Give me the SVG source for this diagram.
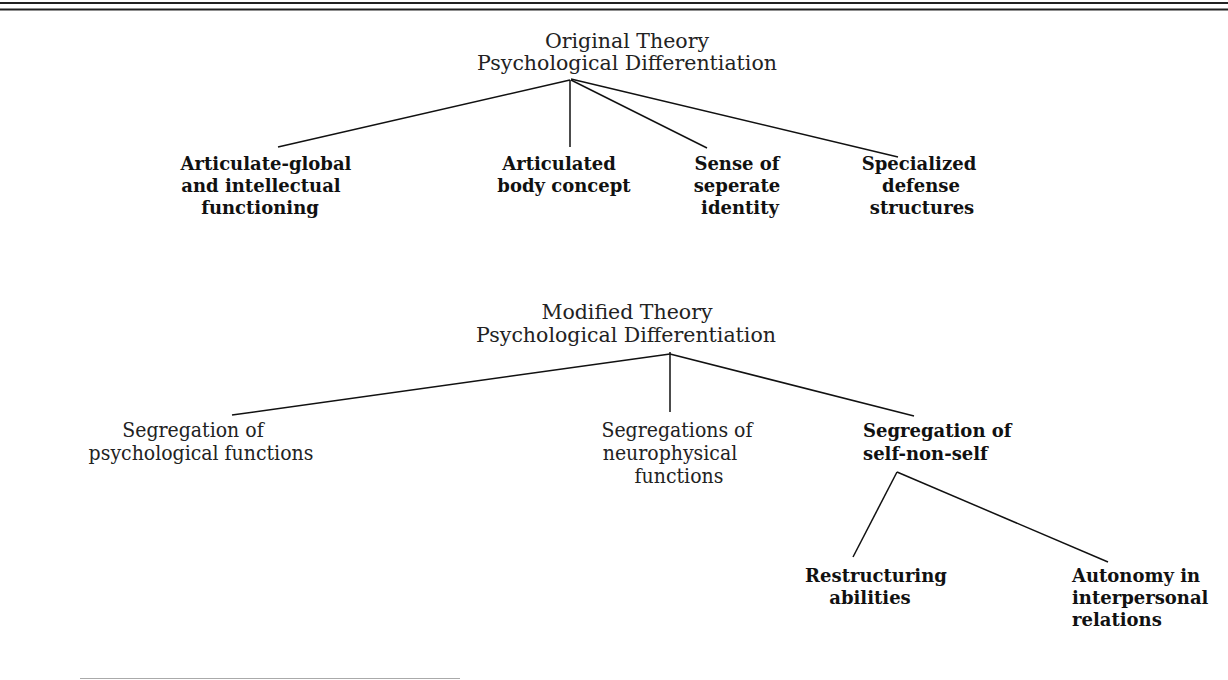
<svg xmlns="http://www.w3.org/2000/svg" width="1228" height="680" viewBox="0 0 1228 680">
<style>
.title{font-family:"DejaVu Serif","Liberation Serif",serif;font-size:20.5px;fill:#222;text-anchor:middle}
.bold{font-family:"DejaVu Serif","Liberation Serif",serif;font-size:18px;font-weight:bold;fill:#111;text-anchor:middle}
.cond{font-family:"DejaVu Serif Condensed","DejaVu Serif","Liberation Serif",serif;font-stretch:condensed;font-size:21px;fill:#222;text-anchor:middle}
.left{text-anchor:start}
.edge{stroke:#111;stroke-width:1.5;fill:none}
.rule{stroke:#222;stroke-width:2}
</style>
<rect width="1228" height="680" fill="#fff"/>
<g id="rules">
<line class="rule" x1="0" y1="3" x2="1228" y2="3"/>
<line class="rule" x1="0" y1="9.5" x2="1228" y2="9.5"/>
<line x1="80" y1="678.5" x2="460" y2="678.5" stroke="#aaa" stroke-width="1"/>
</g>
<g id="connectors">
<line class="edge" x1="570" y1="80" x2="278" y2="147"/>
<line class="edge" x1="570" y1="80" x2="570" y2="147"/>
<line class="edge" x1="571" y1="80" x2="707" y2="148"/>
<line class="edge" x1="571" y1="79" x2="898" y2="157"/>
<line class="edge" x1="670" y1="354" x2="232" y2="415"/>
<line class="edge" x1="670" y1="352" x2="670" y2="412"/>
<line class="edge" x1="670" y1="354" x2="914" y2="416"/>
<line class="edge" x1="897" y1="472" x2="853" y2="557"/>
<line class="edge" x1="897" y1="472" x2="1108" y2="562"/>
</g>
<g id="original-theory">
<text class="title" x="627" y="48">Original Theory</text>
<text class="title" x="627" y="70">Psychological Differentiation</text>
</g>
<g id="articulate-global">
<text class="bold" x="266" y="170">Articulate-global</text>
<text class="bold" x="261" y="192">and intellectual</text>
<text class="bold" x="260" y="214">functioning</text>
</g>
<g id="articulated-body">
<text class="bold" x="559" y="170">Articulated</text>
<text class="bold" x="564" y="192">body concept</text>
</g>
<g id="sense-identity">
<text class="bold" x="737" y="170">Sense of</text>
<text class="bold" x="737" y="192">seperate</text>
<text class="bold" x="740" y="214">identity</text>
</g>
<g id="specialized-defense">
<text class="bold" x="919" y="170">Specialized</text>
<text class="bold" x="921" y="192">defense</text>
<text class="bold" x="922" y="214">structures</text>
</g>
<g id="modified-theory">
<text class="title" x="627" y="319">Modified Theory</text>
<text class="title" x="626" y="342">Psychological Differentiation</text>
</g>
<g id="segregation-psych">
<text class="cond" x="193" y="437">Segregation of</text>
<text class="cond" x="201" y="460">psychological functions</text>
</g>
<g id="segregations-neuro">
<text class="cond" x="677" y="437">Segregations of</text>
<text class="cond" x="670" y="460">neurophysical</text>
<text class="cond" x="679" y="483">functions</text>
</g>
<g id="segregation-self">
<text class="bold left" x="863" y="437">Segregation of</text>
<text class="bold left" x="863" y="460">self-non-self</text>
</g>
<g id="restructuring">
<text class="bold" x="876" y="582">Restructuring</text>
<text class="bold" x="870" y="604">abilities</text>
</g>
<g id="autonomy">
<text class="bold left" x="1072" y="582">Autonomy in</text>
<text class="bold left" x="1072" y="604">interpersonal</text>
<text class="bold left" x="1072" y="626">relations</text>
</g>
</svg>
